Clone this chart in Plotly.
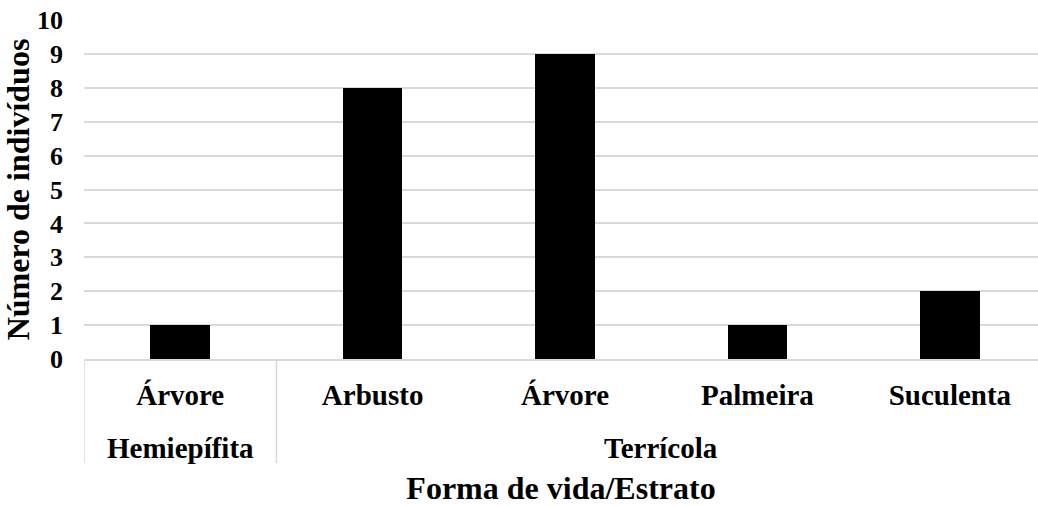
import plotly.graph_objects as go

# Life form (level 2) and stratum (level 1) of each category, with counts
grupos = ["Hemiepífita", "Terrícola", "Terrícola", "Terrícola", "Terrícola"]
estratos = ["Árvore", "Arbusto", "Árvore", "Palmeira", "Suculenta"]
individuos = [1, 8, 9, 1, 2]
y_ticks = list(range(0, 11))

FONT = "Liberation Serif"
GRID = "#d9d9d9"

idx = list(range(len(estratos)))

fig = go.Figure(
    go.Bar(
        x=idx,
        y=individuos,
        width=0.31,
        marker=dict(color="black", line=dict(width=0)),
        hoverinfo="skip",
    )
)

# group spans: (label, first index, last index)
spans = []
for i, g in enumerate(grupos):
    if spans and spans[-1][0] == g:
        spans[-1][2] = i
    else:
        spans.append([g, i, i])

label_y = -0.262  # paper coords of the level-2 labels
div_bottom = -0.307

annotations = []
shapes = []
for g, a, b in spans:
    annotations.append(dict(
        x=(a + b) / 2, y=label_y, xref="x", yref="paper",
        text="<b>%s</b>" % g, showarrow=False,
        font=dict(family=FONT, size=29, color="black"),
        xanchor="center", yanchor="middle",
    ))
# divider lines at group boundaries (incl. both ends)
bounds = [spans[0][1] - 0.5] + [s[2] + 0.5 for s in spans]
for xb in bounds:
    shapes.append(dict(
        type="line", xref="x", yref="paper",
        x0=xb, x1=xb, y0=0, y1=div_bottom,
        line=dict(color=GRID, width=1.5),
    ))

fig.update_layout(
    width=1038, height=506,
    margin=dict(l=84, r=0, t=20, b=147),
    paper_bgcolor="white", plot_bgcolor="white",
    showlegend=False,
    bargap=0,
    annotations=annotations,
    shapes=shapes,
    xaxis=dict(
        range=[-0.5, 4.458],
        tickvals=idx, ticktext=["<b>%s</b>" % s for s in estratos],
        tickfont=dict(family=FONT, size=29, color="black"),
        ticks="", ticklabelstandoff=9,
        showgrid=False, zeroline=False,
        showline=True, linecolor=GRID, linewidth=1.5,
        title=dict(text="<b>Forma de vida/Estrato</b>", standoff=72,
                   font=dict(family=FONT, size=32, color="black")),
    ),
    yaxis=dict(
        range=[0, 10],
        tickvals=y_ticks, ticktext=["<b>%d</b>" % v for v in y_ticks],
        tickfont=dict(family=FONT, size=26, color="black"),
        ticks="", ticklabelstandoff=20,
        showgrid=True, gridcolor=GRID, gridwidth=1.5,
        zeroline=False, showline=False,
        title=dict(text="<b>Número de indivíduos</b>", standoff=2,
                   font=dict(family=FONT, size=32, color="black")),
    ),
)

fig.write_html("out.html")
